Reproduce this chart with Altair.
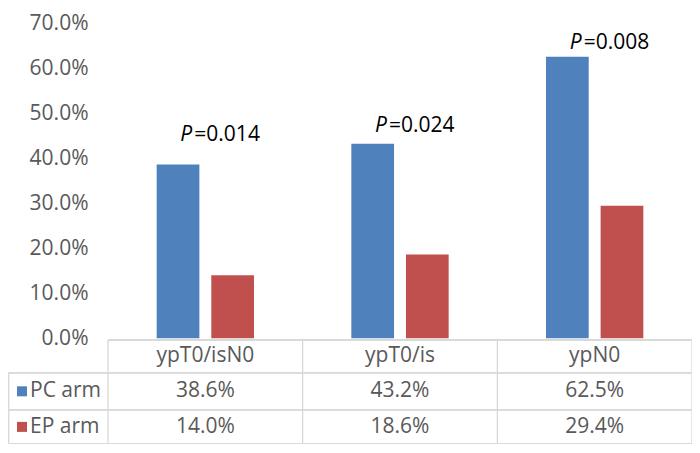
import altair as alt
import pandas as pd

# ---- data ----
categories = ["ypT0/isN0", "ypT0/is", "ypN0"]
series = ["PC arm", "EP arm"]
pc_values = [38.6, 43.2, 62.5]
ep_values = [14.0, 18.6, 29.4]
p_values = ["0.014", "0.024", "0.008"]
y_ticks = [0, 10, 20, 30, 40, 50, 60, 70]

# annotation heights (in axis units) for the P labels
p_label_pos = [45.1, 47.1, 65.6]

# ---- styling / layout ----
COLORS = ["#4F81BD", "#C0504D"]
FONT = "Open Sans"
GRAY_TXT = "#595959"
LINE = "#D9D9D9"
W, H = 584, 421
Y_DOMAIN = [-23.5, 70]
# table rows (axis units below zero)
TOP, L1, L2, BOTTOM = -0.4, -7.7, -15.9, -23.5
HEADER_Y, PC_Y, EP_Y = -4.06, -11.8, -19.7

bars_df = pd.DataFrame({
    "category": categories * 2,
    "series": [series[0]] * len(categories) + [series[1]] * len(categories),
    "value": pc_values + ep_values,
})

cells = []
for c in categories:
    cells.append({"category": c, "ypos": HEADER_Y, "txt": c})
for c, v in zip(categories, pc_values):
    cells.append({"category": c, "ypos": PC_Y, "txt": f"{v:.1f}%"})
for c, v in zip(categories, ep_values):
    cells.append({"category": c, "ypos": EP_Y, "txt": f"{v:.1f}%"})
cells_df = pd.DataFrame(cells)

legend_df = pd.DataFrame({"series": series, "ypos": [PC_Y, EP_Y]})
p_df = pd.DataFrame({"category": categories, "ph": p_label_pos,
                     "txt": ["=" + p for p in p_values]})
cat_df = pd.DataFrame({"category": categories})
last_df = pd.DataFrame({"category": categories[-1:]})

xscale = alt.Scale(domain=categories, paddingInner=0, paddingOuter=0)
yscale = alt.Scale(domain=Y_DOMAIN, nice=False, zero=False)
cscale = alt.Scale(domain=series, range=COLORS)

X = alt.X("category:N", sort=categories, scale=xscale, axis=None)

bars = alt.Chart(bars_df).mark_bar().encode(
    x=X,
    xOffset=alt.XOffset("series:N", sort=series,
                        scale=alt.Scale(domain=series, paddingInner=0.218, paddingOuter=0.891)),
    y=alt.Y("value:Q", scale=yscale,
            axis=alt.Axis(values=y_ticks, title=None, domain=False, ticks=False,
                          labelPadding=20, labelFont=FONT, labelFontSize=21,
                          labelColor=GRAY_TXT, gridColor=LINE, gridWidth=1.3,
                          labelExpr="format(datum.value, '.1f') + '%'")),
    color=alt.Color("series:N", scale=cscale, legend=None),
)

# table lines
hlines = [
    alt.Chart(cat_df).mark_rule(color=LINE, strokeWidth=1.3).encode(
        x=alt.value(0), x2=alt.value(W), y=alt.datum(TOP)),
]
for yy in [L1, L2, BOTTOM]:
    hlines.append(alt.Chart(cat_df).mark_rule(color=LINE, strokeWidth=1.3).encode(
        x=alt.value(-99.5), x2=alt.value(W), y=alt.datum(yy)))

vlines = alt.Chart(cat_df).mark_rule(color=LINE, strokeWidth=1.3).encode(
    x=alt.X("category:N", sort=categories, scale=xscale, axis=None, bandPosition=0),
    y=alt.datum(TOP), y2=alt.datum(BOTTOM))
vlast = alt.Chart(last_df).mark_rule(color=LINE, strokeWidth=1.3).encode(
    x=alt.X("category:N", sort=categories, scale=xscale, axis=None, bandPosition=1),
    y=alt.datum(TOP), y2=alt.datum(BOTTOM))
vleft = alt.Chart(cat_df).mark_rule(color=LINE, strokeWidth=1.3).encode(
    x=alt.value(-99.5), y=alt.datum(L1), y2=alt.datum(BOTTOM))

cell_text = alt.Chart(cells_df).mark_text(
    font=FONT, fontSize=21, color=GRAY_TXT, baseline="middle").encode(
    x=X, y=alt.Y("ypos:Q", scale=yscale), text="txt:N")

leg_sq = alt.Chart(legend_df).mark_square(size=100, opacity=1, filled=True).encode(
    x=alt.value(-86), y=alt.Y("ypos:Q", scale=yscale),
    color=alt.Color("series:N", scale=cscale, legend=None))
leg_txt = alt.Chart(legend_df).mark_text(
    font=FONT, fontSize=21, color=GRAY_TXT, align="left", baseline="middle").encode(
    x=alt.value(-78), y=alt.Y("ypos:Q", scale=yscale), text="series:N")

p_italic = alt.Chart(p_df).mark_text(
    text="P", font=FONT, fontSize=21, fontStyle="italic", color="black",
    align="left", baseline="middle", dx=-25).encode(
    x=X, y=alt.Y("ph:Q", scale=yscale))
p_rest = alt.Chart(p_df).mark_text(
    font=FONT, fontSize=21, color="black", align="left", baseline="middle", dx=-11).encode(
    x=X, y=alt.Y("ph:Q", scale=yscale), text="txt:N")

chart = alt.layer(
    *hlines, vlines, vlast, vleft, bars, cell_text, leg_sq, leg_txt, p_italic, p_rest
).properties(
    width=W, height=H,
    autosize=alt.AutoSizeParams(type="none"),
    padding={"left": 100, "top": 15, "right": 0, "bottom": 0},
).configure_view(stroke=None)

chart.save("out.html", embed_options={"renderer": "svg", "actions": False})
